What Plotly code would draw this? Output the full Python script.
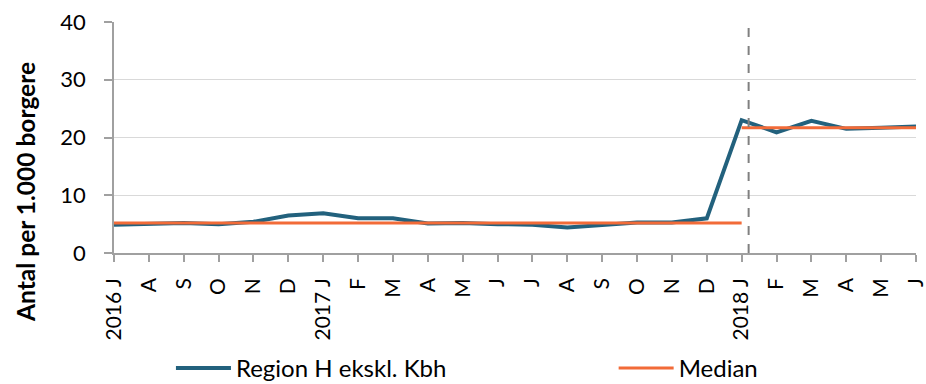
import plotly.graph_objects as go

categories = ["2016 J", "A", "S", "O", "N", "D", "2017 J", "F", "M", "A", "M", "J",
              "J", "A", "S", "O", "N", "D", "2018 J", "F", "M", "A", "M", "J"]
region_h = [4.9, 5.1, 5.2, 5.0, 5.4, 6.5, 6.9, 6.0, 6.0, 5.1, 5.2, 5.0,
            4.9, 4.4, 4.8, 5.3, 5.3, 6.0, 23.0, 20.9, 22.9, 21.5, 21.7, 21.9]
median_before = [5.2] * 19 + [None] * 5
median_after = [None] * 18 + [21.7] * 6
divider_pos = 18.2
y_ticks = [0, 10, 20, 30, 40]

FONT = "Lato, sans-serif"
BLUE = "#22617d"
ORANGE = "#f26b38"

xs = list(range(len(categories)))

fig = go.Figure()
fig.add_trace(go.Scatter(x=xs, y=region_h, mode="lines", name="Region H ekskl. Kbh",
                         line=dict(color=BLUE, width=4), legend="legend"))
fig.add_trace(go.Scatter(x=xs, y=median_before, mode="lines", name="Median",
                         line=dict(color=ORANGE, width=3), legendgroup="med",
                         legend="legend2"))
fig.add_trace(go.Scatter(x=xs, y=median_after, mode="lines", name="Median",
                         line=dict(color=ORANGE, width=3), legendgroup="med",
                         legend="legend2", showlegend=False))

fig.add_shape(type="line", xref="x", yref="y", x0=divider_pos, x1=divider_pos,
              y0=y_ticks[0], y1=y_ticks[-1],
              line=dict(color="#808080", width=2, dash="dash"))

legend_common = dict(orientation="h", xanchor="left", y=-0.5, yanchor="middle",
                     itemwidth=55, bgcolor="rgba(0,0,0,0)",
                     font=dict(size=24, family=FONT))

fig.update_layout(
    width=926, height=384,
    margin=dict(l=114, r=10, t=22, b=131, autoexpand=False),
    paper_bgcolor="white", plot_bgcolor="white",
    font=dict(family=FONT, size=21, color="#000000"),
    showlegend=True,
    legend=dict(x=0.071, **legend_common),
    legend2=dict(x=0.623, **legend_common),
    xaxis=dict(
        range=[0, len(categories) - 1], automargin=False,
        tickmode="array", tickvals=xs, ticktext=categories,
        tickangle=-90, ticks="outside", ticklen=7, tickcolor="#a0a0a0", tickwidth=1.5,
        showline=True, linecolor="#a0a0a0", linewidth=1.5,
        showgrid=False, zeroline=False, ticklabeloverflow="allow",
        tickfont=dict(size=21, family=FONT),
        ticklabelstandoff=8,
    ),
    yaxis=dict(
        range=[y_ticks[0], y_ticks[-1]], automargin=False,
        tickmode="array", tickvals=y_ticks,
        ticks="outside", ticklen=8, tickcolor="#a0a0a0", tickwidth=1.5,
        showline=True, linecolor="#a0a0a0", linewidth=1.5,
        showgrid=True, gridcolor="#d9d9d9", gridwidth=1, zeroline=False,
        tickfont=dict(size=22, family=FONT), ticklabeloverflow="allow",
        ticklabelstandoff=14,
    ),
    annotations=[dict(text="<b>Antal per 1.000 borgere</b>", textangle=-90,
                      xref="paper", yref="paper", x=-0.111, y=0.264,
                      xanchor="center", yanchor="middle", showarrow=False,
                      font=dict(size=24.5, family=FONT))],
)

# Remove the default page margin so the 926x384 figure fills the window exactly.
fig.write_html("out.html", config={"displayModeBar": False},
               post_script="document.body.style.margin='0px';")
